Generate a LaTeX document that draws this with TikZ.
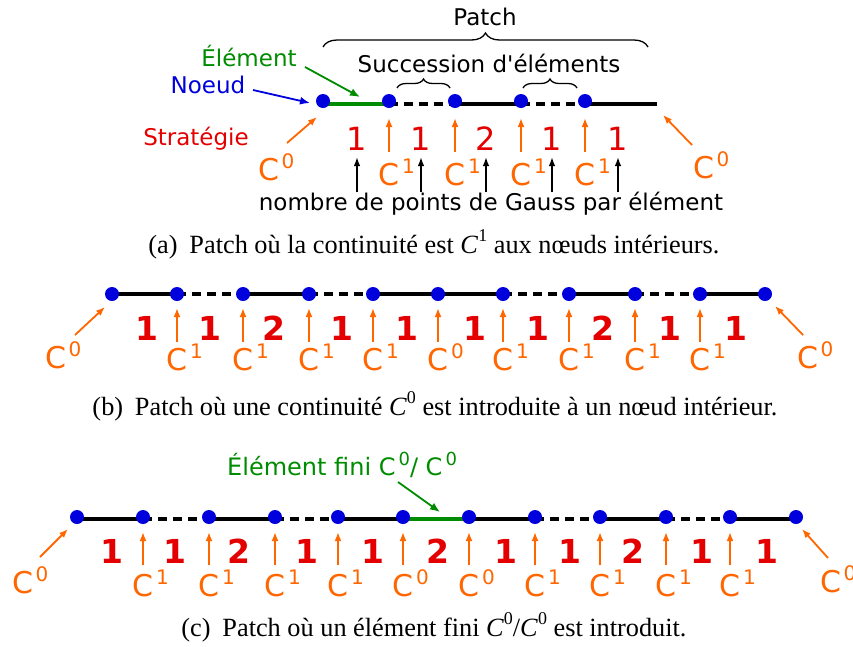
\documentclass[tikz,border=0pt]{standalone}
\usepackage{fontspec}
\setmainfont{Liberation Serif}
\newfontfamily\dv{DejaVu Sans}
\usetikzlibrary{arrows.meta,decorations.pathreplacing,backgrounds}
\definecolor{nblue}{RGB}{0,0,220}
\definecolor{oran}{RGB}{255,102,0}
\definecolor{dred}{RGB}{228,0,0}
\definecolor{dgreen}{RGB}{0,140,0}
\newcommand\fs[1]{\fontsize{#1}{#1}\selectfont}
\newcommand\Csup[1]{C\kern2.5pt\raisebox{12pt}{\fs{20}#1}}
\newcommand\Csupg[1]{C\kern3pt\raisebox{10pt}{\fs{18}#1}}
\newcommand\capsup[1]{\textit{C}\raisebox{0.42em}{\fs{18}#1}}
\tikzset{
  dot/.style={circle,fill=nblue,inner sep=0pt,minimum size=14pt},
  seg/.style={line width=4.8pt},
  dseg/.style={line width=4.8pt,dash pattern=on 9pt off 6pt},
  gseg/.style={line width=4.8pt,draw=dgreen},
  oarr/.style={draw=oran,line width=1.8pt,-{Latex[length=9pt,width=7pt]}},
  barr/.style={draw=black,line width=1.5pt,-{Latex[length=9pt,width=6.5pt]}},
  garr/.style={draw=dgreen,line width=1.8pt,-{Latex[length=10pt,width=8pt]}},
  bluearr/.style={draw=nblue,line width=1.8pt,-{Latex[length=10pt,width=8pt]}},
  clab/.style={font=\dv\fs{30},text=oran,inner sep=0pt,anchor=base west},
  dig/.style={font=\dv\fs{32},text=dred,inner sep=0pt,anchor=base},
  bdig/.style={font=\dv\bfseries\fs{33},text=dred,inner sep=0pt,anchor=base},
  lab/.style={font=\dv\fs{23},inner sep=0pt,anchor=base},
  captext/.style={font=\fs{26.3},inner sep=0pt,anchor=base},
  brc/.style={decorate,line width=1.3pt}
}
\begin{document}
\begin{tikzpicture}[x=1pt,y=-1pt]
\useasboundingbox (0,0) rectangle (853,646);
% ================= (a) =================
\foreach \i/\x in {1/323,2/389,3/455,4/521,5/585} \node[dot] (a\i) at (\x,101) {};
\coordinate (aend) at (657,101);
\begin{pgfonlayer}{background}
\draw[gseg] ([yshift=-3pt]a1.center) -- ([yshift=-3pt]a2.center);
\draw[dseg] ([yshift=-3pt]a2.center) -- ([yshift=-3pt]a3.center);
\draw[seg] ([yshift=-3pt]a3.center) -- ([yshift=-3pt]a4.center);
\draw[dseg] ([yshift=-3pt]a4.center) -- ([yshift=-3pt]a5.center);
\draw[seg] ([yshift=-3pt]a5.center) -- ([yshift=-3pt]aend);
\end{pgfonlayer}
\node[lab] (patch) at (485,25) {Patch};
\draw[brc,decoration={brace,amplitude=14pt}] (323,47) -- (648,47);
\node[lab] (succ) at (489,72) {Succession d'éléments};
\draw[brc,decoration={brace,amplitude=9pt}] (397,88) -- (450,88);
\draw[brc,decoration={brace,amplitude=9pt}] (523,88) -- (577,88);
\node[lab,text=dgreen] (elem) at (249,66) {Élément};
\node[lab,text=nblue] (noeud) at (208,93) {Noeud};
\node[lab,text=dred] (strat) at (196,145) {Stratégie};
\coordinate (elemS) at (305,67); \coordinate (elemT) at (360,97);
\draw[garr] (elemS) -- (elemT);
\coordinate (noeudS) at (253,90); \coordinate (noeudT) at (310,103);
\draw[bluearr] (noeudS) -- (noeudT);
\foreach \i in {2,...,5} {
  \draw[oarr] ([yshift=-51pt]a\i.center) -- ([yshift=-17pt]a\i.center);
  \node[clab] (ca\i) at ([xshift=-10.5pt,yshift=-84pt]a\i.center) {\Csup{1}};
}
\node[clab] (ca1) at (258,180) {\Csup{0}};
\node[clab] (ca6) at (693,178) {\Csup{0}};
\coordinate (la1) at (287,143); \coordinate (la2) at (317,117);
\draw[oarr] (la1) -- (la2);
\coordinate (ra1) at (692,145); \coordinate (ra2) at (663,115);
\draw[oarr] (ra1) -- (ra2);
\foreach \k/\x/\v in {1/357/1,2/421/1,3/486/2,4/552/1,5/618/1} {
  \node[dig] (da\k) at (\x,150) {\v};
  \draw[barr] ([yshift=-42pt]da\k.base) -- ([yshift=-7pt]da\k.base);
}
\node[lab] (gauss) at (491,210) {nombre de points de Gauss par élément};
\node[captext] (capa) at (434,253) {(a)\hspace{0.45em}Patch où la continuité est \capsup{1} aux nœuds intérieurs.};
% ================= (b) =================
\foreach \i/\x in {1/112,2/177,3/243,4/309,5/373,6/438,7/503,8/569,9/635,10/700,11/765} \node[dot] (b\i) at (\x,294) {};
\begin{pgfonlayer}{background}
\foreach \i/\j/\s in {1/2/seg,2/3/dseg,3/4/seg,4/5/dseg,5/6/seg,6/7/seg,7/8/dseg,8/9/seg,9/10/dseg,10/11/seg}
  \draw[\s] (b\i.center) -- (b\j.center);
\end{pgfonlayer}
\foreach \i/\c in {2/1,3/1,4/1,5/1,6/0,7/1,8/1,9/1,10/1} {
  \draw[oarr] ([yshift=-48pt]b\i.center) -- ([yshift=-14pt]b\i.center);
  \node[clab] (cb\i) at ([xshift=-10.5pt,yshift=-76pt]b\i.center) {\Csup{\c}};
}
\foreach \k/\x/\v in {1/147/1,2/210/1,3/274/2,4/342/1,5/407/1,6/475/1,7/538/1,8/603/2,9/670/1,10/736/1}
  \node[bdig] (db\k) at (\x,340) {\v};
\node[clab] (cb1) at (45,368) {\Csup{0}};
\node[clab] (cb12) at (797,368) {\Csup{0}};
\coordinate (lb1) at (75,335); \coordinate (lb2) at (105,307);
\draw[oarr] (lb1) -- (lb2);
\coordinate (rb1) at (803,335); \coordinate (rb2) at (775,306);
\draw[oarr] (rb1) -- (rb2);
\node[captext] (capb) at (435,415) {(b)\hspace{0.45em}Patch où une continuité \capsup{0} est introduite à un nœud intérieur.};
% ================= (c) =================
\foreach \i/\x in {1/77,2/143,3/209,4/275,5/338,6/403,7/469,8/535,9/600,10/666,11/730,12/796} \node[dot] (c\i) at (\x,517) {};
\begin{pgfonlayer}{background}
\foreach \i/\j/\s in {1/2/seg,2/3/dseg,3/4/seg,4/5/dseg,5/6/seg,6/7/gseg,7/8/seg,8/9/dseg,9/10/seg,10/11/dseg,11/12/seg}
  \draw[\s] ([yshift=-2pt]c\i.center) -- ([yshift=-2pt]c\j.center);
\end{pgfonlayer}
\foreach \i/\c in {2/1,3/1,4/1,5/1,6/0,7/0,8/1,9/1,10/1,11/1} {
  \draw[oarr] ([yshift=-48pt]c\i.center) -- ([yshift=-15pt]c\i.center);
  \node[clab] (cc\i) at ([xshift=-10.5pt,yshift=-79pt]c\i.center) {\Csup{\c}};
}
\foreach \k/\x/\v in {1/112/1,2/175/1,3/239/2,4/307/1,5/373/1,6/438/2,7/506/1,8/570/1,9/633/2,10/702/1,11/767/1}
  \node[bdig] (dc\k) at (\x,563) {\v};
\node[clab] (cc1) at (12,593) {\Csup{0}};
\node[clab] (cc13) at (820,592) {\Csup{0}};
\coordinate (lc1) at (40,557); \coordinate (lc2) at (68,529);
\draw[oarr] (lc1) -- (lc2);
\coordinate (rc1) at (828,558); \coordinate (rc2) at (802,529);
\draw[oarr] (rc1) -- (rc2);
\node[font=\dv\fs{24},text=dgreen,inner sep=0pt,anchor=base west] (efini) at (227,475) {Élément fini \Csupg{0}/ \Csupg{0}};
\coordinate (efS) at (398,482); \coordinate (efT) at (440,512);
\draw[garr] (efS) -- (efT);
\node[captext] (capc) at (434,636) {(c)\hspace{0.45em}Patch où un élément fini \capsup{0}/\capsup{0} est introduit.};
\end{tikzpicture}
\end{document}
